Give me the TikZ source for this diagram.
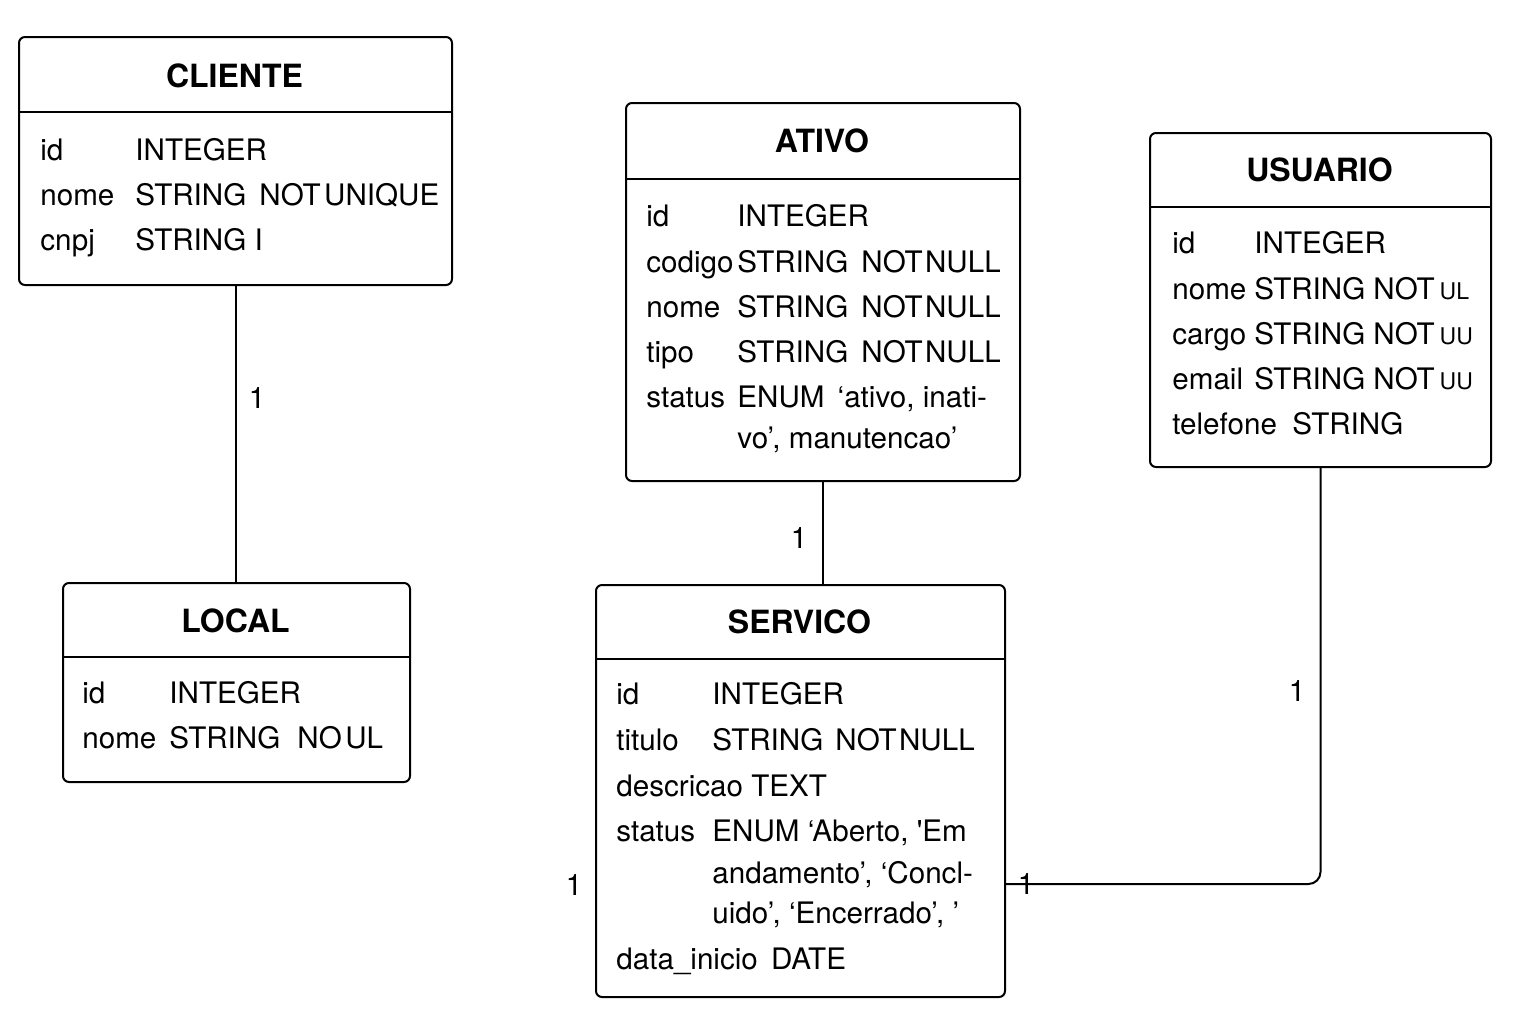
\documentclass[tikz,border=0pt]{standalone}
\usepackage{fontspec}
\setmainfont{TeX Gyre Heros}
\usepackage{tikz}
\tikzstyle{entbox}=[draw, line width=1pt, rounded corners=3pt, inner sep=0pt, anchor=north west]
\tikzstyle{enttitle}=[inner sep=0pt, anchor=base, font=\fontsize{16}{19}\selectfont\bfseries]
\tikzstyle{attr}=[inner sep=0pt, anchor=base west, font=\fontsize{14.8}{17}\selectfont]
\tikzstyle{card}=[inner sep=0pt, font=\fontsize{14.8}{17}\selectfont]
\tikzstyle{rel}=[line width=1pt]
\newcommand{\smallul}[1]{{\fontsize{11.5}{13}\selectfont #1}}

\begin{document}
\begin{tikzpicture}[x=.5pt, y=-.5pt]
	\useasboundingbox (0,0) rectangle (1536,1024);
	% CLIENTE
	\node[entbox, minimum width=216.5pt, minimum height=124pt] (cliente) at (18,36) {};
	\draw[rel] (18,112) -- (451,112);
	\node[enttitle] (clienteT) at (234.5,87) {CLIENTE};
	\node[attr] at (40,160) {id};
	\node[attr] at (135,160) {INTEGER};
	\node[attr] at (40,205) {nome};
	\node[attr] at (135,205) {STRING};
	\node[attr] at (259,205) {NOT\hspace{.12em}UNIQUE};
	\node[attr] at (40,250) {cnpj};
	\node[attr] at (135,250) {STRING I};
	% LOCAL
	\node[entbox, minimum width=173.5pt, minimum height=99.5pt] (local) at (62,582) {};
	\draw[rel] (62,657) -- (409,657);
	\node[enttitle] (localT) at (235.5,632) {LOCAL};
	\node[attr] at (82,703) {id};
	\node[attr] at (169,703) {INTEGER};
	\node[attr] at (82,748) {nome};
	\node[attr] at (169,748) {STRING};
	\node[attr] at (297,748) {NO\hspace{.12em}UL};
	% ATIVO
	\node[entbox, minimum width=197pt, minimum height=189pt] (ativo) at (625,102) {};
	\draw[rel] (625,179) -- (1019,179);
	\node[enttitle] (ativoT) at (822,152) {ATIVO};
	\node[attr] at (646,226) {id};
	\node[attr] at (737,226) {INTEGER};
	\node[attr] at (646,272) {codigo};
	\node[attr] at (737,272) {STRING};
	\node[attr] at (861,272) {NOT\hspace{.08em}NULL};
	\node[attr] at (646,317) {nome};
	\node[attr] at (737,317) {STRING};
	\node[attr] at (861,317) {NOT\hspace{.08em}NULL};
	\node[attr] at (646,362) {tipo};
	\node[attr] at (737,362) {STRING};
	\node[attr] at (861,362) {NOT\hspace{.08em}NULL};
	\node[attr] at (646,407) {status};
	\node[attr] at (737,407) {ENUM\ \,`ativo, inati-};
	\node[attr] at (737,448) {vo', manutencao'};
	% USUARIO
	\node[entbox, minimum width=170.5pt, minimum height=167pt] (usuario) at (1149,132) {};
	\draw[rel] (1149,207) -- (1490,207);
	\node[enttitle] (usuarioT) at (1319.5,181) {USUARIO};
	\node[attr] at (1172,253) {id};
	\node[attr] at (1254,253) {INTEGER};
	\node[attr] at (1172,299) {nome};
	\node[attr] at (1254,299) {STRING};
	\node[attr] at (1373,299) {NOT\,\smallul{UL}};
	\node[attr] at (1172,344) {cargo};
	\node[attr] at (1254,344) {STRING};
	\node[attr] at (1373,344) {NOT\,\smallul{UU}};
	\node[attr] at (1172,389) {email};
	\node[attr] at (1254,389) {STRING};
	\node[attr] at (1373,389) {NOT\,\smallul{UU}};
	\node[attr] at (1172,434) {telefone};
	\node[attr] at (1292,434) {STRING};
	% SERVICO
	\node[entbox, minimum width=204.5pt, minimum height=206pt] (servico) at (595,584) {};
	\draw[rel] (595,659) -- (1004,659);
	\node[enttitle] (servicoT) at (799.5,633) {SERVICO};
	\node[attr] at (616,704) {id};
	\node[attr] at (712,704) {INTEGER};
	\node[attr] at (616,750) {titulo};
	\node[attr] at (712,750) {STRING};
	\node[attr] at (835,750) {NOT\hspace{.08em}NULL};
	\node[attr] at (616,796) {descricao TEXT};
	\node[attr] at (616,841) {status};
	\node[attr] at (712,841) {ENUM `Aberto, \textquotesingle Em};
	\node[attr] at (712,883) {andamento', `Concl-};
	\node[attr] at (712,923) {uido', `Encerrado', '};
	\node[attr] at (616,969) {data\_inicio\ \,DATE};
	% relations
	\draw[rel] (cliente.south) -- (cliente.south |- local.north);
	\draw[rel] (ativo.south) -- (ativo.south |- servico.north);
	\draw[rel, rounded corners=6pt] (usuario.south) |- ([yshift=-46.5pt]servico.east);
	\node[card] (c1) at (257,398) {1};
	\node[card] (c2) at (799,538) {1};
	\node[card] (c3) at (1297,691) {1};
	\node[card] (c4) at (1026,884) {1};
	\node[card] (c5) at (574,885) {1};
\end{tikzpicture}
\end{document}
